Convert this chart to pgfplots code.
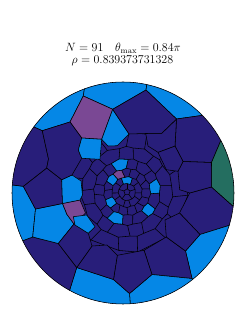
\documentclass[border=0pt]{standalone}
\usepackage{pgfplots}
\pgfplotsset{compat=1.18}
\definecolor{nv}{RGB}{40,30,122}
\definecolor{lb}{RGB}{5,135,230}
\definecolor{pu}{RGB}{122,72,148}
\definecolor{tl}{RGB}{36,110,96}
\pgfplotsset{cell/.style={draw=black, line width=0.55pt, line join=round},
  ml/.style={data cs=polar, draw=black, line width=0.55pt, line join=round},
  pc/.style={data cs=polar, draw=black, line width=0.55pt, line join=round}}
\begin{document}
\begin{tikzpicture}
\begin{scope}
\clip (123pt,138pt) circle (111pt);
\fill[nv] (123pt,138pt) circle (111pt);
% inner cells, polar about the dense centre (pixel 127,192)
\begin{axis}[scale only axis, width=245pt, height=331pt,
  xmin=-127, xmax=118, ymin=-139, ymax=192, hide axis, clip=false]
\addplot[ml] coordinates {(18,3.2)(90,3.2)(162,3.2)(234,3.2)(306,3.2)} -- cycle;
\addplot[ml] coordinates {(18,3.2)(18,8.5)};
\addplot[ml] coordinates {(90,3.2)(90,8.5)};
\addplot[ml] coordinates {(162,3.2)(162,8.5)};
\addplot[ml] coordinates {(234,3.2)(234,8.5)};
\addplot[ml] coordinates {(306,3.2)(306,8.5)};
\addplot[ml] coordinates {(18,8.5)(42,8.9)(66,8.2)(90,8.5)(114,8.8)(138,8.3)(162,8.5)(186,8.9)(210,8.2)(234,8.5)(258,8.7)(282,8.3)(306,8.5)(330,8.8)(354,8.2)} -- cycle;
\addplot[ml] coordinates {(42,8.9)(40,15.0)};
\addplot[ml] coordinates {(66,8.2)(68.8,14.6)};
\addplot[ml] coordinates {(114,8.8)(112,15.0)};
\addplot[ml] coordinates {(138,8.3)(140.8,14.6)};
\addplot[ml] coordinates {(186,8.9)(184,15.0)};
\addplot[ml] coordinates {(210,8.2)(212.8,14.6)};
\addplot[ml] coordinates {(258,8.7)(256,15.0)};
\addplot[ml] coordinates {(282,8.3)(284.8,14.6)};
\addplot[ml] coordinates {(330,8.8)(328,15.0)};
\addplot[ml] coordinates {(354,8.2)(356.8,14.6)};
\addplot[ml] coordinates {(11.2,15.4)(25.6,14.8)(40,15.0)(54.4,15.6)(68.8,14.6)(83.2,15.4)(97.6,14.8)(112,15.0)(126.4,15.6)(140.8,14.6)(155.2,15.4)(169.6,14.8)(184,15.0)(198.4,15.6)(212.8,14.6)(227.2,15.4)(241.6,14.8)(256,15.0)(270.4,15.6)(284.8,14.6)(299.2,15.4)(313.6,14.8)(328,15.0)(342.4,15.6)(356.8,14.6)} -- cycle;
\addplot[ml] coordinates {(11.2,15.4)(8,23.0)};
\addplot[ml] coordinates {(25.6,14.8)(32,22.4)};
\addplot[ml] coordinates {(54.4,15.6)(56,22.7)};
\addplot[ml] coordinates {(83.2,15.4)(80,23.0)};
\addplot[ml] coordinates {(97.6,14.8)(104,22.4)};
\addplot[ml] coordinates {(126.4,15.6)(128,22.7)};
\addplot[ml] coordinates {(155.2,15.4)(152,23.0)};
\addplot[ml] coordinates {(169.6,14.8)(176,22.4)};
\addplot[ml] coordinates {(198.4,15.6)(200,22.7)};
\addplot[ml] coordinates {(227.2,15.4)(224,23.0)};
\addplot[ml] coordinates {(241.6,14.8)(248,22.4)};
\addplot[ml] coordinates {(270.4,15.6)(272,22.7)};
\addplot[ml] coordinates {(299.2,15.4)(296,23.0)};
\addplot[ml] coordinates {(313.6,14.8)(320,22.4)};
\addplot[ml] coordinates {(342.4,15.6)(344,22.7)};
\addplot[ml] coordinates {(8,23.0)(20,23.8)(32,22.4)(44,23.5)(56,22.7)(68,23.9)(80,23.0)(92,23.8)(104,22.4)(116,23.5)(128,22.7)(140,23.9)(152,23.0)(164,23.8)(176,22.4)(188,23.5)(200,22.7)(212,23.9)(224,23.0)(236,23.8)(248,22.4)(260,23.5)(272,22.7)(284,23.9)(296,23.0)(308,23.8)(320,22.4)(332,23.5)(344,22.7)(356,23.9)} -- cycle;
\addplot[ml] coordinates {(20,23.8)(24,32.4)};
\addplot[ml] coordinates {(44,23.5)(41,32.8)};
\addplot[ml] coordinates {(68,23.9)(70,32.5)};
\addplot[ml] coordinates {(92,23.8)(88,32.6)};
\addplot[ml] coordinates {(116,23.5)(119,32.4)};
\addplot[ml] coordinates {(140,23.9)(137,32.8)};
\addplot[ml] coordinates {(164,23.8)(166,32.5)};
\addplot[ml] coordinates {(188,23.5)(184,32.6)};
\addplot[ml] coordinates {(212,23.9)(215,32.4)};
\addplot[ml] coordinates {(236,23.8)(233,32.8)};
\addplot[ml] coordinates {(260,23.5)(262,32.5)};
\addplot[ml] coordinates {(284,23.9)(280,32.6)};
\addplot[ml] coordinates {(308,23.8)(311,32.4)};
\addplot[ml] coordinates {(332,23.5)(329,32.8)};
\addplot[ml] coordinates {(356,23.9)(358,32.5)};
\addplot[ml] coordinates {(11,33.8)(24,32.4)(32.5,33.5)(41,32.8)(55.5,34.0)(70,32.5)(79,33.6)(88,32.6)(103.5,33.9)(119,32.4)(128,33.4)(137,32.8)(151.5,34.0)(166,32.5)(175,33.6)(184,32.6)(199.5,33.9)(215,32.4)(224,33.4)(233,32.8)(247.5,34.0)(262,32.5)(271,33.6)(280,32.6)(295.5,33.9)(311,32.4)(320,33.4)(329,32.8)(343.5,34.0)(358,32.5)} -- cycle;
\addplot[ml] coordinates {(11,33.8)(8,45.0)};
\addplot[ml] coordinates {(32.5,33.5)(36.5,44.2)};
\addplot[ml] coordinates {(55.5,34.0)(53.5,44.6)};
\addplot[ml] coordinates {(79,33.6)(82,44.4)};
\addplot[ml] coordinates {(103.5,33.9)(99.5,44.0)};
\addplot[ml] coordinates {(128,33.4)(131,44.8)};
\addplot[ml] coordinates {(151.5,34.0)(148,44.2)};
\addplot[ml] coordinates {(175,33.6)(178,44.6)};
\addplot[ml] coordinates {(199.5,33.9)(196.5,44.4)};
\addplot[ml] coordinates {(224,33.4)(227,44.0)};
\addplot[ml] coordinates {(247.5,34.0)(244,44.8)};
\addplot[ml] coordinates {(271,33.6)(274,44.2)};
\addplot[ml] coordinates {(295.5,33.9)(292,44.6)};
\addplot[ml] coordinates {(320,33.4)(323,44.4)};
\addplot[ml] coordinates {(343.5,34.0)(340,44.0)};
\addplot[ml] coordinates {(8,45.0)(22.25,46.2)(36.5,44.2)(45,45.8)(53.5,44.6)(67.75,46.4)(82,44.4)(90.75,45.6)(99.5,44.0)(115.25,46.0)(131,44.8)(139.5,45.4)(148,44.2)(163,46.2)(178,44.6)(187.25,45.8)(196.5,44.4)(211.75,46.4)(227,44.0)(235.5,45.6)(244,44.8)(259,46.0)(274,44.2)(283,45.4)(292,44.6)(307.5,46.2)(323,44.4)(331.5,45.8)(340,44.0)(354,46.0)} -- cycle;
\addplot[ml] coordinates {(22.25,46.2)(25,60)};
\addplot[ml] coordinates {(45,45.8)(42,59)};
\addplot[ml] coordinates {(67.75,46.4)(71,61)};
\addplot[ml] coordinates {(90.75,45.6)(88,60)};
\addplot[ml] coordinates {(115.25,46.0)(118,59)};
\addplot[ml] coordinates {(139.5,45.4)(137,61)};
\addplot[ml] coordinates {(163,46.2)(166,60)};
\addplot[ml] coordinates {(187.25,45.8)(184,59)};
\addplot[ml] coordinates {(211.75,46.4)(215,61)};
\addplot[ml] coordinates {(235.5,45.6)(233,60)};
\addplot[ml] coordinates {(259,46.0)(262,59)};
\addplot[ml] coordinates {(283,45.4)(280,61)};
\addplot[ml] coordinates {(307.5,46.2)(310,60)};
\addplot[ml] coordinates {(331.5,45.8)(329,59)};
\addplot[ml] coordinates {(354,46.0)(357,61)};
\addplot[ml] coordinates {(25,60)(42,59)(71,61)(88,60)(118,59)(137,61)(166,60)(184,59)(215,61)(233,60)(262,59)(280,61)(310,60)(329,59)(357,61)} -- cycle;
% coloured small cells
\addplot[pc, fill=lb] coordinates {(66,8.2)(90,8.5)(114,8.8)(112,15.0)(97.6,14.8)(83.2,15.4)(68.8,14.6)} -- cycle;
\addplot[pc, fill=pu] coordinates {(97.6,14.8)(112,15.0)(126.4,15.6)(128,22.7)(116,23.5)(104,22.4)} -- cycle;
\addplot[pc, fill=lb] coordinates {(126.4,15.6)(140.8,14.6)(155.2,15.4)(152,23.0)(140,23.9)(128,22.7)} -- cycle;
\addplot[pc, fill=lb] coordinates {(198.4,15.6)(212.8,14.6)(227.2,15.4)(224,23.0)(212,23.9)(200,22.7)} -- cycle;
\addplot[pc, fill=lb] coordinates {(92,23.8)(104,22.4)(116,23.5)(119,32.4)(103.5,33.9)(88,32.6)} -- cycle;
\addplot[pc, fill=lb] coordinates {(236,23.8)(248,22.4)(260,23.5)(262,32.5)(247.5,34.0)(233,32.8)} -- cycle;
\addplot[pc, fill=lb] coordinates {(308,23.8)(320,22.4)(332,23.5)(329,32.8)(320,33.4)(311,32.4)} -- cycle;
\addplot[pc, fill=lb] coordinates {(356,23.9)(8,23.0)(20,23.8)(24,32.4)(11,33.8)(358,32.5)} -- cycle;
\end{axis}
% outer cells in pixel coordinates
\begin{axis}[scale only axis, width=245pt, height=331pt,
  xmin=0, xmax=245, ymin=0, ymax=331, y dir=reverse, hide axis, clip=false]
\addplot[cell, fill=lb] coordinates {(15,110)(27,124)(42.3,130.7)(70,122)(83.3,96)(85.5,82)(50,85)} -- cycle;
\addplot[cell, fill=lb] coordinates {(83.3,96)(112.7,109.3)(146,90)(147.5,80)(123,75)(85.5,82)} -- cycle;
\addplot[cell, fill=pu] coordinates {(83.3,96)(112.7,109.3)(101.7,139.3)(81.7,138)(70,122)} -- cycle;
\addplot[cell, fill=lb] coordinates {(146,90)(176.5,119)(201.5,115.5)(215,105)(190,80)(147.5,80)} -- cycle;
\addplot[cell, fill=nv] coordinates {(176.5,119)(201.5,115.5)(215,105)(235,130)(221.5,139)(211.5,162.5)(183,161.5)(175,146)} -- cycle;
\addplot[cell, fill=tl] coordinates {(221.5,139)(211.5,162.5)(211.3,187)(240,212.5)(250,180)(235,130)} -- cycle;
\addplot[cell, fill=nv] coordinates {(189.7,193)(211.3,187)(240,212.5)(240,222)(200,234.5)(179.5,213)} -- cycle;
\addplot[cell, fill=nv] coordinates {(183,161.5)(211.5,162.5)(211.3,187)(189.7,193)(179.7,189.7)(178,171.3)} -- cycle;
\addplot[cell, fill=nv] coordinates {(175,146)(183,161.5)(178,171.3)(166.3,169.7)(158,152.3)} -- cycle;
\addplot[cell, fill=nv] coordinates {(145.7,133.5)(161.7,133.3)(176.5,119)(175,146)(158,152.3)(148,146)} -- cycle;
\addplot[cell, fill=lb] coordinates {(200,234.5)(240,222)(240,250)(215,280)(196,285)(192,278.5)(185.5,251)} -- cycle;
\addplot[cell, fill=nv] coordinates {(144,250.3)(166.3,237)(185.5,251)(192,278.5)(152,274.5)} -- cycle;
\addplot[cell, fill=nv] coordinates {(166.3,237)(165,220)(179.5,213)(200,234.5)(185.5,251)} -- cycle;
\addplot[cell, fill=lb] coordinates {(129.5,293.5)(152,274.5)(192,278.5)(200,290)(170,320)(131,318)(130.5,308)} -- cycle;
\addplot[cell, fill=lb] coordinates {(76.7,267.5)(113.5,279.5)(129.5,293.5)(130.5,308)(95,320)(67.5,297)} -- cycle;
\addplot[cell, fill=nv] coordinates {(32.7,237)(58.3,243.5)(76.7,267.5)(67.5,297)(35,290)(10,260)(18,242.5)} -- cycle;
\addplot[cell, fill=lb] coordinates {(23.3,186.3)(35.5,209)(32.7,237)(18,242.5)(0,235)(0,185)(5,184)} -- cycle;
\addplot[cell, fill=lb] coordinates {(35.5,209)(62.5,203.5)(67,214.5)(74,224)(58.3,243.5)(32.7,237)} -- cycle;
\addplot[cell, fill=pu] coordinates {(62.5,203.5)(80,200)(85.5,213)(74,224)(67,214.5)} -- cycle;
\addplot[cell, fill=nv] coordinates {(23.3,186.3)(46.7,168)(61.7,179.7)(62.5,203.5)(35.5,209)} -- cycle;
\addplot[cell, fill=lb] coordinates {(61.7,179.7)(72,175)(81,181)(82.5,195)(80,200)(62.5,203.5)} -- cycle;
\addplot[cell, fill=nv] coordinates {(23.3,186.3)(46.7,168)(48.5,159)(42.3,130.7)(27,124)(5,150)(5,184)} -- cycle;
\addplot[cell, fill=nv] coordinates {(42.3,130.7)(70,122)(81.7,138)(78.3,150)(81.7,158.3)(72,175)(61.7,179.7)(46.7,168)(48.5,159)} -- cycle;
\addplot[cell, fill=lb] coordinates {(81.7,138)(101.7,139.3)(100,159.3)(81.7,158.3)(78.3,150)} -- cycle;
\addplot[cell, fill=lb] coordinates {(112.7,109.3)(129,134)(117.3,145.7)(108,146)(101.7,139.3)} -- cycle;
\addplot[cell, fill=nv] coordinates {(112.7,109.3)(146,90)(176.5,119)(161.7,133.3)(145.7,133.5)(129,134)} -- cycle;
\addplot[cell, fill=nv] coordinates {(117.3,255.3)(144,250.3)(152,274.5)(129.5,293.5)(113.5,279.5)} -- cycle;
\addplot[cell, fill=nv] coordinates {(76.7,267.5)(92,246)(107,245)(117.3,255.3)(113.5,279.5)} -- cycle;
\addplot[cell, fill=nv] coordinates {(58.3,243.5)(74,224)(88.3,233.3)(92,246)(76.7,267.5)} -- cycle;
\addplot[cell, fill=lb] coordinates {(73.3,216.7)(86.7,215)(95,226.7)(88.3,233.3)(75,225)} -- cycle;
\end{axis}
\end{scope}
\draw[black, line width=0.55pt] (123pt,138pt) circle (111pt);
\node[anchor=base, inner sep=0pt, font=\fontsize{11.8}{14}\selectfont] at (123pt,279pt) {$N=91\quad\theta_{\max}=0.84\pi$};
\node[anchor=base, inner sep=0pt, font=\fontsize{11.8}{14}\selectfont] at (122.5pt,267pt) {$\rho=0.839373731328$};
\path (0pt,0pt) rectangle (245pt,331pt);
\end{tikzpicture}
\end{document}
